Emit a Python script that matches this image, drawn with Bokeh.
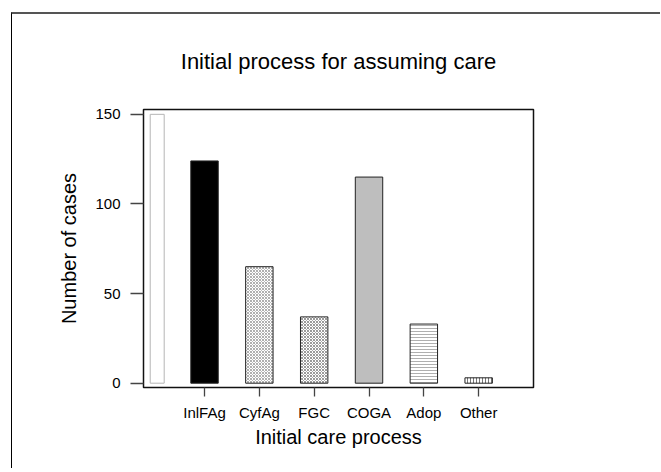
from bokeh.plotting import figure
from bokeh.models import Range1d, FixedTicker, ColumnDataSource
from bokeh.embed import file_html
from bokeh.resources import INLINE

# ---- data ----
categories = ["InlFAg", "CyfAg", "FGC", "COGA", "Adop", "Other"]
cases = [124, 65, 37, 115, 33, 3]
y_ticks = [0, 50, 100, 150]
blank_bar_value = 150   # empty, faintly outlined bar at the far left

positions = list(range(1, len(categories) + 1))

# ---- styles ----
fills = ["black", "white", "white", "#bebebe", "white", "white"]
hatches = [" ", "diagonal_cross", "diagonal_cross", " ", "horizontal_line", "vertical_line"]
hatch_colors = ["black", "#9a9a9a", "#808080", "black", "#9a9a9a", "#555555"]
hatch_scales = [4, 3, 3, 4, 3, 3]

src = ColumnDataSource(dict(x=positions, top=cases, fill=fills, hatch=hatches,
                            hcol=hatch_colors, hscale=hatch_scales))

FONT = "Liberation Sans"

p = figure(width=649, height=456,
           x_range=Range1d(-0.113, 7.0), y_range=Range1d(-2.4, 152.7),
           output_backend="svg", toolbar_location=None,
           min_border_left=131, min_border_right=128,
           min_border_top=92, min_border_bottom=83)

p.styles = {"margin-left": "11px", "margin-top": "12px",
            "border-top": "2px solid #555555", "border-left": "1px solid #000000"}

p.title.text = "Initial process for assuming care"
p.title.align = "center"
p.title.vertical_align = "top"
p.title.text_font = FONT
p.title.text_font_size = "22px"
p.title.text_font_style = "normal"
p.title.text_color = "black"
p.title.standoff = 68

p.background_fill_color = "white"
p.border_fill_color = "white"
p.outline_line_color = "#111111"
p.outline_line_width = 1.5
p.grid.visible = False

# blank first bar
p.vbar(x=[positions[0] - 0.863], width=0.255, top=[blank_bar_value], bottom=0,
       fill_color="white", line_color="#b5b5b5", line_width=1)

p.vbar(x="x", top="top", bottom=0, width=0.5, source=src,
       fill_color="fill", line_color="#222222", line_width=1,
       hatch_pattern="hatch", hatch_color="hcol", hatch_scale="hscale",
       hatch_weight=0.8)

for ax in (p.xaxis, p.yaxis):
    ax.axis_line_color = None
    ax.minor_tick_line_color = None
    ax.major_tick_in = 0
    ax.major_tick_line_color = "#444444"
    ax.major_tick_line_width = 1.3
    ax.major_label_text_font = FONT
    ax.major_label_text_font_size = "15px"
    ax.major_label_text_color = "black"
    ax.axis_label_text_font = FONT
    ax.axis_label_text_font_size = "20px"
    ax.axis_label_text_font_style = "normal"
    ax.axis_label_text_color = "black"

p.xaxis.ticker = FixedTicker(ticks=positions)
p.xaxis.major_label_overrides = {pos: name for pos, name in zip(positions, categories)}
p.xaxis.major_tick_out = 9
p.xaxis.major_label_standoff = 7
p.xaxis.axis_label = "Initial care process"
p.xaxis.axis_label_standoff = 2

p.yaxis.ticker = FixedTicker(ticks=y_ticks)
p.yaxis.major_tick_out = 13
p.yaxis.major_label_standoff = 10
p.yaxis.axis_label = "Number of cases"
p.yaxis.axis_label_standoff = 12

open("out.html", "w").write(file_html(p, INLINE))
